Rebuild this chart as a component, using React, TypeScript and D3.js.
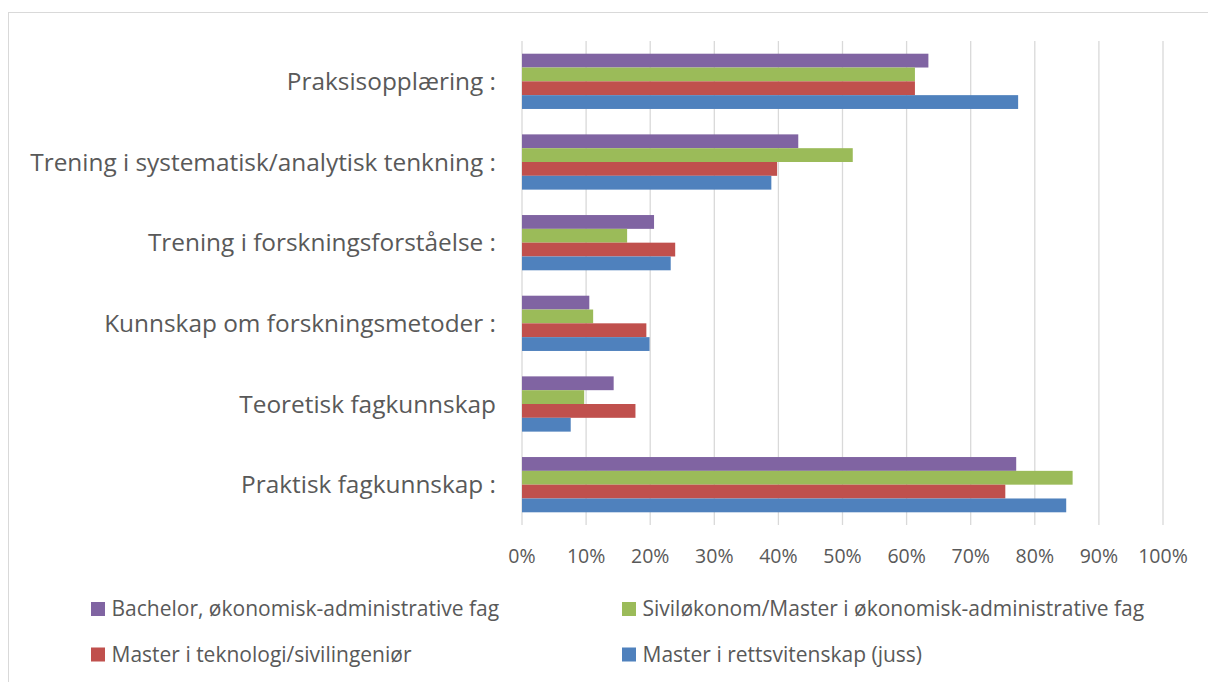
import React, { useEffect, useRef } from "react";
import * as d3 from "d3";

const categories = [
  "Praksisopplæring :",
  "Trening i systematisk/analytisk tenkning :",
  "Trening i forskningsforståelse :",
  "Kunnskap om forskningsmetoder :",
  "Teoretisk fagkunnskap",
  "Praktisk fagkunnskap :",
];

const seriesNames = [
  "Bachelor, økonomisk-administrative fag",
  "Siviløkonom/Master i økonomisk-administrative fag",
  "Master i teknologi/sivilingeniør",
  "Master i rettsvitenskap (juss)",
];

const seriesColors = ["#8064A2", "#9BBB59", "#C0504D", "#4F81BD"];

// percent values, one array per series, in category order
const bachelor = [63.4, 43.1, 20.6, 10.5, 14.3, 77.1];
const sivilokonom = [61.3, 51.6, 16.4, 11.1, 9.7, 85.9];
const teknologi = [61.3, 39.8, 23.9, 19.4, 17.7, 75.4];
const juss = [77.4, 38.9, 23.2, 19.9, 7.6, 84.9];

const seriesValues = [bachelor, sivilokonom, teknologi, juss];
const xTicks = [0, 10, 20, 30, 40, 50, 60, 70, 80, 90, 100];

const FONT = "'Open Sans', sans-serif";
const TEXT = "#595959";

export default function App() {
  const ref = useRef<SVGSVGElement>(null);

  useEffect(() => {
    const svg = d3.select(ref.current);
    svg.selectAll("*").remove();

    const left = 522,
      right = 1163,
      top = 41,
      bottom = 525;

    // chart frame
    svg
      .append("rect")
      .attr("x", 8.5)
      .attr("y", 12.5)
      .attr("width", 1250)
      .attr("height", 720)
      .attr("fill", "white")
      .attr("stroke", "#d9d9d9");

    const x = d3.scaleLinear().domain([0, 100]).range([left, right]);
    const y = d3
      .scaleBand()
      .domain(categories)
      .range([top, bottom])
      .paddingInner(0.315)
      .paddingOuter(0.1575);
    const inner = d3
      .scaleBand()
      .domain(seriesNames)
      .range([0, y.bandwidth()]);

    // gridlines
    svg
      .append("g")
      .selectAll("line")
      .data(xTicks)
      .join("line")
      .attr("x1", (d) => x(d))
      .attr("x2", (d) => x(d))
      .attr("y1", top)
      .attr("y2", bottom)
      .attr("stroke", "#d9d9d9")
      .attr("stroke-width", 1.3);

    // bars
    seriesNames.forEach((name, si) => {
      svg
        .append("g")
        .selectAll("rect")
        .data(seriesValues[si])
        .join("rect")
        .attr("x", x(0))
        .attr("y", (d, i) => (y(categories[i]) as number) + (inner(name) as number))
        .attr("width", (d) => x(d) - x(0))
        .attr("height", inner.bandwidth())
        .attr("fill", seriesColors[si]);
    });

    // category labels
    svg
      .append("g")
      .selectAll("text")
      .data(categories)
      .join("text")
      .attr("x", 496)
      .attr("y", (d) => (y(d) as number) + y.bandwidth() / 2)
      .attr("dy", "0.35em")
      .attr("text-anchor", "end")
      .style("font-family", FONT)
      .style("font-size", "24.4px")
      .style("fill", TEXT)
      .text((d) => d);

    // x tick labels
    svg
      .append("g")
      .selectAll("text")
      .data(xTicks)
      .join("text")
      .attr("x", (d) => x(d))
      .attr("y", 556)
      .attr("dy", "0.35em")
      .attr("text-anchor", "middle")
      .style("font-family", FONT)
      .style("font-size", "19.5px")
      .style("fill", TEXT)
      .text((d) => d + "%");

    // legend
    const legendPos = [
      [91, 609],
      [622, 609],
      [91, 654.5],
      [622, 654.5],
    ];
    const lg = svg
      .append("g")
      .selectAll("g")
      .data(seriesNames)
      .join("g")
      .attr("transform", (d, i) => `translate(${legendPos[i][0]},${legendPos[i][1]})`);
    lg.append("rect")
      .attr("x", 0)
      .attr("y", -7)
      .attr("width", 14)
      .attr("height", 14)
      .attr("fill", (d, i) => seriesColors[i]);
    lg.append("text")
      .attr("x", 20.5)
      .attr("y", 0)
      .attr("dy", "0.35em")
      .style("font-family", FONT)
      .style("font-size", "21px")
      .style("fill", TEXT)
      .text((d) => d);
  }, []);

  return (
    <svg
      ref={ref}
      width={1208}
      height={682}
      style={{ position: "absolute", left: 0, top: 0 }}
    />
  );
}
